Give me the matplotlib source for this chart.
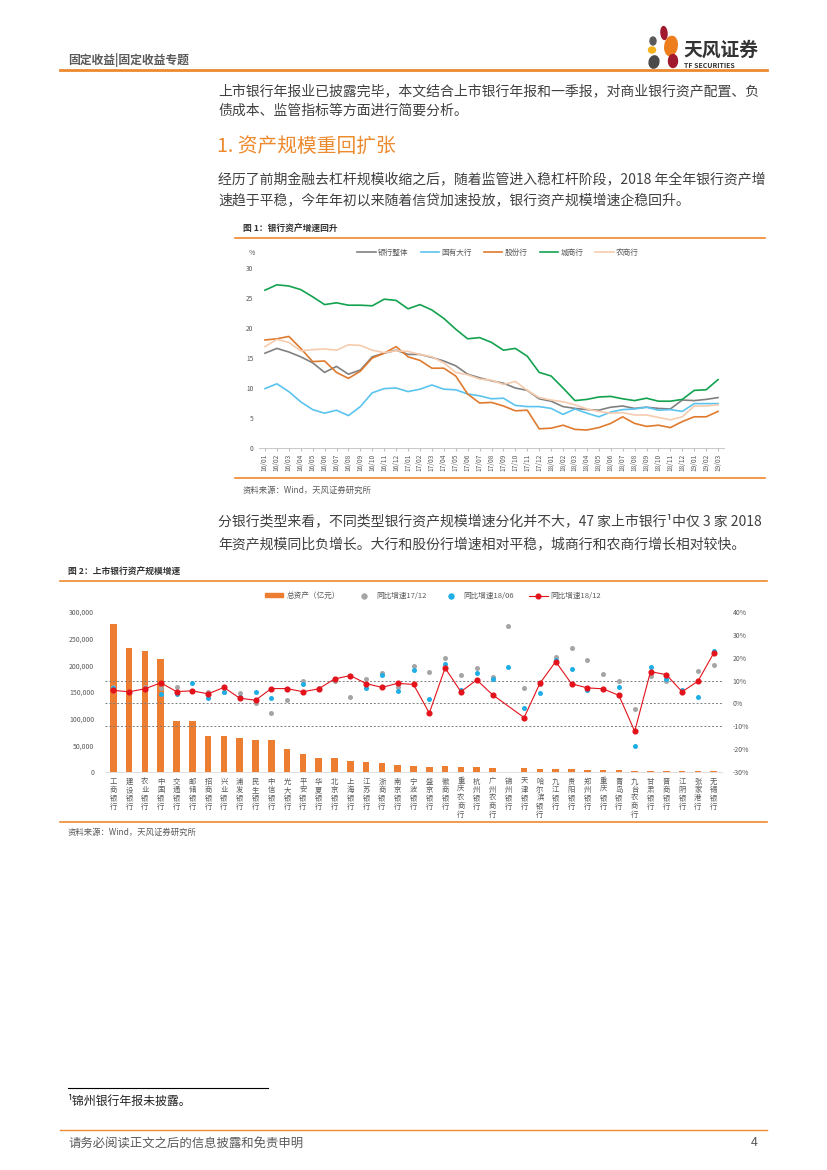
import numpy as np
import matplotlib
matplotlib.use("Agg")
import matplotlib.pyplot as plt
from matplotlib.lines import Line2D
from matplotlib.patches import Patch, Ellipse

plt.rcParams['font.family'] = ['Noto Sans CJK SC', 'DejaVu Sans']

W, H = 827, 1170
ORANGE = '#EE8A2E'
TXT = '#404040'


def fx(x):
    return x / W


def fy(y):
    return 1 - y / H


# ---- chart 1: bank asset growth by type (%)
months = [f"{y}/{m:02d}" for y in (16, 17, 18) for m in range(1, 13)] + ["19/01", "19/02", "19/03"]
total = [15.8, 16.6, 16.0, 15.2, 14.2, 12.6, 13.6, 12.3, 13.0, 15.2, 15.8, 16.3, 15.6, 15.6, 15.1,
         14.5, 13.7, 12.3, 11.7, 11.2, 10.8, 10.0, 9.6, 8.2, 7.8, 6.9, 6.6, 6.4, 6.3, 6.8,
         7.0, 6.6, 6.8, 6.6, 6.5, 8.0, 7.9, 8.1, 8.4]
big4 = [9.9, 10.7, 9.4, 7.7, 6.4, 5.8, 6.3, 5.4, 6.9, 9.2, 9.9, 10.0, 9.4, 9.8, 10.5,
        9.8, 9.7, 9.0, 8.7, 8.2, 8.3, 7.1, 6.9, 6.9, 6.6, 5.6, 6.5, 5.8, 5.2, 6.0,
        6.4, 6.5, 6.8, 6.3, 6.4, 6.1, 7.4, 7.4, 7.4]
joint = [18.0, 18.2, 18.6, 16.6, 14.4, 14.5, 12.6, 11.6, 12.8, 15.0, 15.8, 16.9, 15.2, 14.6, 13.3,
         13.3, 12.0, 9.0, 7.5, 7.6, 7.0, 6.2, 6.3, 3.2, 3.3, 3.8, 3.1, 3.0, 3.4, 4.1,
         5.2, 4.1, 3.6, 3.8, 3.4, 4.4, 5.2, 5.2, 6.1]
city = [26.3, 27.2, 27.0, 26.4, 25.2, 23.9, 24.2, 23.8, 23.8, 23.7, 24.8, 24.6, 23.2, 23.9, 23.0,
        21.6, 19.8, 18.2, 18.4, 17.6, 16.3, 16.6, 15.3, 12.6, 12.0, 10.0, 7.9, 8.1, 8.5, 8.6,
        8.2, 7.9, 8.3, 7.8, 7.8, 8.1, 9.6, 9.7, 11.4]
rural = [16.9, 18.1, 17.6, 16.2, 16.4, 16.5, 16.3, 17.2, 17.1, 16.3, 15.9, 16.2, 16.1, 15.6, 15.2,
         14.2, 12.6, 12.2, 11.5, 11.3, 10.6, 11.1, 9.6, 8.4, 8.0, 7.7, 7.2, 6.5, 6.1, 5.8,
         5.9, 5.5, 5.5, 5.1, 4.7, 5.2, 7.0, 7.0, 7.2]
series1 = [("银行整体", total, '#808080'), ("国有大行", big4, '#5BC4EE'),
           ("股份行", joint, '#E07A2E'), ("城商行", city, '#13A24F'),
           ("农商行", rural, '#F6CBAE')]

# ---- chart 2: listed banks
banks = ["工商银行", "建设银行", "农业银行", "中国银行", "交通银行", "邮储银行", "招商银行",
         "兴业银行", "浦发银行", "民生银行", "中信银行", "光大银行", "平安银行", "华夏银行",
         "北京银行", "上海银行", "江苏银行", "浙商银行", "南京银行", "宁波银行", "盛京银行",
         "徽商银行", "重庆农商行", "杭州银行", "广州农商行", "锦州银行", "天津银行", "哈尔滨银行",
         "九江银行", "贵阳银行", "郑州银行", "重庆银行", "青岛银行", "九台农商行", "甘肃银行",
         "晋商银行", "江阴银行", "张家港行", "无锡银行"]
assets = [276995, 232227, 226095, 212673, 95312, 95163, 67457, 67117, 62896, 59948, 60667,
          43573, 34186, 26806, 25729, 20278, 19259, 16467, 12433, 11164, 9854, 10505, 10058,
          9211, 7632, np.nan, 6594, 6012, 5000, 5034, 4662, 3200, 3178, 1500, 1500, 1300,
          1302, 1101, 1000]
g1712 = [7.4, 5.2, 7.3, 6.8, 7.4, 5.5, 5.2, 4.8, 4.6, 0.0, -4.3, 1.4, 10.0, 6.8, 10.0, 2.9,
         10.9, 13.5, 7.1, 16.5, 13.6, 20.0, 12.6, 15.5, 11.5, 33.9, 6.7, 8.5, 20.4, 24.3,
         18.8, 13.0, 9.9, -2.3, 11.9, 9.7, 5.4, 14.2, 16.8]
g1806 = [6.8, 5.1, 6.4, 4.3, 4.1, 9.1, 2.5, 5.1, 3.0, 4.9, 2.5, 6.1, 8.7, 6.2, 10.7, 12.2,
         6.8, 12.3, 5.4, 14.5, 2.0, 17.4, 5.9, 13.3, 10.9, 16.1, -1.9, 4.5, 18.8, 14.9,
         5.9, 6.4, 7.0, -18.6, 16.1, 10.7, 5.7, 2.9, 22.9]
g1812 = [5.7, 5.1, 6.4, 9.0, 5.2, 5.5, 4.2, 7.0, 2.3, 1.4, 6.5, 6.5, 5.1, 6.4, 10.7, 12.2,
         8.7, 7.0, 8.8, 8.3, -4.2, 15.5, 5.1, 10.3, 3.8, np.nan, -6.2, 8.8, 18.3, 8.6,
         6.8, 6.4, 3.5, -12.2, 13.9, 12.6, 5.1, 9.7, 22.0]
left_ticks = [0, 50000, 100000, 150000, 200000, 250000, 300000]
right_ticks = [-30, -20, -10, 0, 10, 20, 30, 40]

fig = plt.figure(figsize=(W / 100, H / 100), dpi=100)


def hline(x0, x1, y, color=ORANGE, lw=1.2):
    fig.add_artist(Line2D([fx(x0), fx(x1)], [fy(y), fy(y)], color=color, lw=lw))


# header
fig.text(fx(68), fy(60), "固定收益|固定收益专题", fontsize=8.5, fontweight='bold', color='#595959', va='center')
hline(60, 767, 70, lw=2.0)
for (cx, cy, w, h, ang, col) in [(664, 33, 6, 13, 10, '#A0192E'), (653, 41, 6, 8, 0, '#5a5a5a'),
                                 (652, 50, 7, 6, 0, '#F5B21B'), (671, 46, 12, 20, -30, '#EE7D1E'),
                                 (654, 62, 10, 12, 20, '#4a4a4a'), (673, 61, 9, 13, -10, '#A0192E')]:
    fig.add_artist(Ellipse((fx(cx), fy(cy)), w / W, h / H, angle=ang, color=col))
fig.text(fx(683), fy(50), "天风证券", fontsize=13.5, fontweight='bold', color='#333333', va='center')
fig.text(fx(684), fy(65), "TF SECURITIES", fontsize=5, fontweight='bold', color='#333333', va='center')

body = dict(fontsize=10.0, color=TXT, va='center')
fig.text(fx(218), fy(91), "上市银行年报业已披露完毕，本文结合上市银行年报和一季报，对商业银行资产配置、负", **body)
fig.text(fx(218), fy(111), "债成本、监管指标等方面进行简要分析。", **body)
fig.text(fx(217), fy(146), "1. 资产规模重回扩张", fontsize=14.2, color=ORANGE, va='center')
fig.text(fx(218), fy(180), "经历了前期金融去杠杆规模收缩之后，随着监管进入稳杠杆阶段，2018 年全年银行资产增", **body)
fig.text(fx(218), fy(200), "速趋于平稳，今年年初以来随着信贷加速投放，银行资产规模增速企稳回升。", **body)

# ---- figure 1
fig.text(fx(243), fy(229), "图 1：银行资产增速回升", fontsize=6.3, fontweight='bold', color='#333333', va='center')
hline(235, 765, 238)
ax1 = fig.add_axes([fx(259), fy(448), 465 / W, 180 / H])
xs = np.arange(len(months))
handles1 = []
for name, vals, col in series1:
    ln, = ax1.plot(xs, vals, color=col, lw=1.2, label=name, solid_joinstyle='round')
    handles1.append(ln)
ax1.set_xlim(-0.5, len(months) - 0.5)
ax1.set_ylim(0, 30)
ax1.set_yticks([0, 5, 10, 15, 20, 25, 30])
ax1.set_xticks(xs)
ax1.set_xticklabels(months, rotation=90, fontsize=4.8, color='#595959')
ax1.tick_params(axis='y', length=0, labelsize=4.8, labelcolor='#595959', pad=4)
ax1.tick_params(axis='x', length=2, color='#bfbfbf', pad=2)
for s in ['top', 'right', 'left']:
    ax1.spines[s].set_visible(False)
ax1.spines['bottom'].set_color('#bfbfbf')
ax1.spines['bottom'].set_linewidth(0.6)
ax1.patch.set_alpha(0)
fig.text(fx(249), fy(253), "%", fontsize=5, color='#595959', va='center')
fig.legend(handles1, [s[0] for s in series1], loc='center', bbox_to_anchor=(fx(498), fy(253)),
           ncol=5, frameon=False, fontsize=5.5, handlelength=2.4, columnspacing=1.6,
           handletextpad=0.3, labelcolor='#595959')
hline(235, 765, 478)
fig.text(fx(243), fy(490), "资料来源：Wind，天风证券研究所", fontsize=6, color='#595959', va='center')

fig.text(fx(218), fy(522), "分银行类型来看，不同类型银行资产规模增速分化并不大，47 家上市银行¹中仅 3 家 2018", **body)
fig.text(fx(218), fy(544), "年资产规模同比负增长。大行和股份行增速相对平稳，城商行和农商行增长相对较快。", **body)

# ---- figure 2
fig.text(fx(68), fy(572), "图 2：上市银行资产规模增速", fontsize=6.3, fontweight='bold', color='#333333', va='center')
hline(60, 767, 581)
ax2 = fig.add_axes([fx(105.4), fy(772), 616.2 / W, 160 / H])
xb = np.arange(len(banks))
ax2.bar(xb, assets, width=0.42, color='#ED7D31', zorder=2)
ax2.set_xlim(-0.5, len(banks) - 0.5)
ax2.set_ylim(0, 300000)
ax2.set_yticks(left_ticks)
ax2.set_yticklabels([f"{v:,}" for v in left_ticks])
ax2.set_xticks(xb)
ax2.set_xticklabels(["\n".join(b) for b in banks], fontsize=5.3, color='#595959', linespacing=1.05)
ax2.tick_params(axis='x', length=0, pad=4)
ax2.tick_params(axis='y', length=0, labelsize=5, labelcolor='#595959', pad=8)
for s in ['top', 'right', 'left']:
    ax2.spines[s].set_visible(False)
ax2.spines['bottom'].set_color('#d9d9d9')
ax2.spines['bottom'].set_linewidth(0.6)

axr = ax2.twinx()
axr.set_ylim(-30, 40)
axr.set_yticks(right_ticks)
axr.set_yticklabels([f"{v}%" for v in right_ticks])
axr.tick_params(axis='y', length=0, labelsize=5, labelcolor='#595959', pad=8)
for s in axr.spines.values():
    s.set_visible(False)
for lvl in (10, 0, -10):
    axr.axhline(lvl, color='#7f7f7f', lw=0.7, ls=(0, (2, 2)), zorder=1)
axr.scatter(xb, g1712, s=13, color='#A5A5A5', zorder=3, linewidths=0)
axr.scatter(xb, g1806, s=13, color='#1FAEE6', zorder=4, linewidths=0)
r = np.array(g1812)
ok = ~np.isnan(r)
axr.plot(xb[ok], r[ok], color='#E3121B', lw=0.8, marker='o', ms=3.4, zorder=5)

leg2 = [Patch(color='#ED7D31'),
        Line2D([], [], ls='none', marker='o', ms=3.6, color='#A5A5A5'),
        Line2D([], [], ls='none', marker='o', ms=3.6, color='#1FAEE6'),
        Line2D([], [], color='#E3121B', lw=0.8, marker='o', ms=3.4)]
fig.legend(leg2, ["总资产（亿元）", "同比增速17/12", "同比增速18/06", "同比增速18/12"],
           loc='center', bbox_to_anchor=(fx(433), fy(596)), ncol=4, frameon=False,
           fontsize=5.5, handlelength=2.4, handleheight=0.5, columnspacing=2.0,
           handletextpad=0.4, labelcolor='#595959')
hline(60, 767, 822)
fig.text(fx(68), fy(832), "资料来源：Wind，天风证券研究所", fontsize=6, color='#595959', va='center')

# footnote and footer
hline(68, 268, 1088, color='#000000', lw=0.8)
fig.text(fx(68), fy(1101), "¹锦州银行年报未披露。", fontsize=8.6, color='#222222', va='center')
hline(60, 767, 1130, lw=1.0)
fig.text(fx(68), fy(1143), "请务必阅读正文之后的信息披露和免责申明", fontsize=8.9, color='#595959', va='center')
fig.text(fx(758), fy(1143), "4", fontsize=8.9, color='#595959', va='center', ha='right')

fig.savefig("out.png", dpi=100)
